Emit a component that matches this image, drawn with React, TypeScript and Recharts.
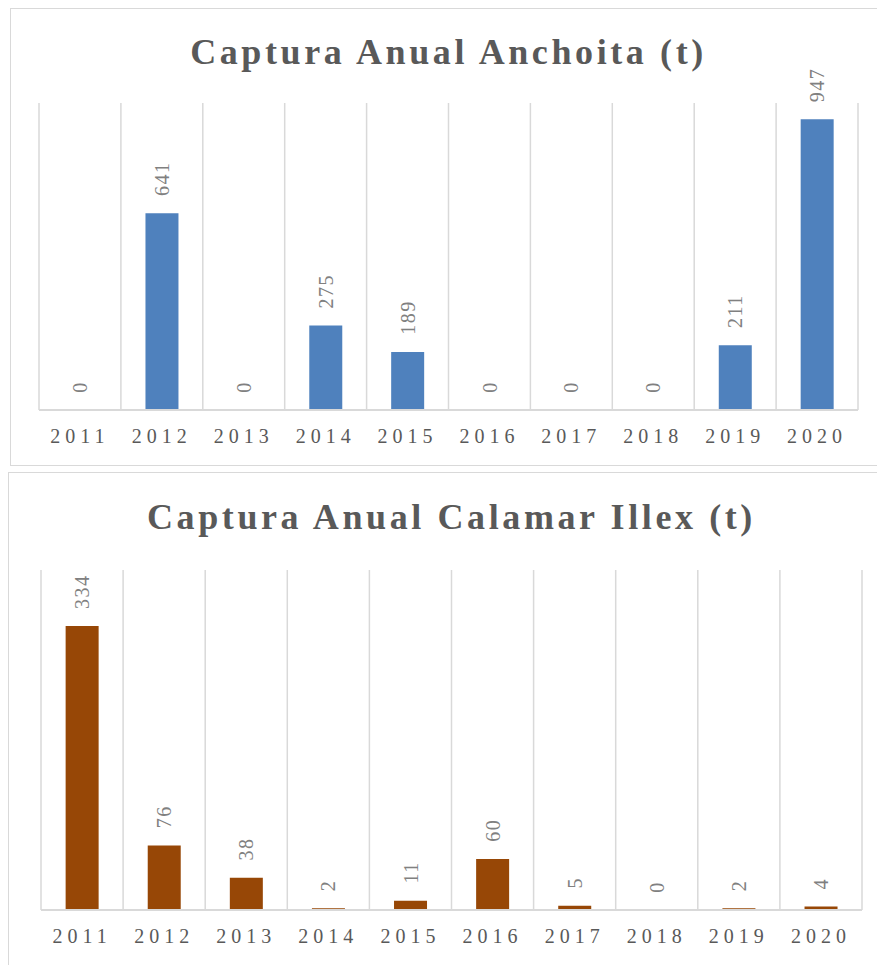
import React from 'react'
import {
  BarChart,
  Bar,
  XAxis,
  YAxis,
  CartesianGrid,
  LabelList,
} from 'recharts'

const years = ['2011', '2012', '2013', '2014', '2015', '2016', '2017', '2018', '2019', '2020']
const anchoitaCatch = [0, 641, 0, 275, 189, 0, 0, 0, 211, 947]
const illexCatch = [334, 76, 38, 2, 11, 60, 5, 0, 2, 4]

const StyleSheet = {
  create: (styles: Record<string, React.CSSProperties>) => styles,
}

const FONT = '"Liberation Serif", serif'

interface PanelProps {
  title: string
  values: number[]
  color: string
  yMax: number
  width: number
  height: number
  margin: { top: number; right: number; left: number; bottom: number }
  titleTop: number
}

// rotated value label sitting above each bar
const RotatedLabel = (props: any) => {
  const { x, y, width, value } = props
  const cx = Number(x) + Number(width) / 2
  const ty = Number(y) - 17
  return (
    <text
      x={cx}
      y={ty}
      transform={`rotate(-90 ${cx} ${ty})`}
      textAnchor="start"
      dominantBaseline="central"
      fill="#808080"
      fontSize={20}
      fontFamily={FONT}
      letterSpacing={1.5}
    >
      {value}
    </text>
  )
}

const ChartPanel: React.FC<PanelProps> = ({
  title,
  values,
  color,
  yMax,
  width,
  height,
  margin,
  titleTop,
}) => {
  // recharts skips labels on zero-height bars, so the labels ride on a
  // hair-thin invisible bar stacked on top of each value
  const data = years.map((year, i) => ({
    year,
    value: values[i],
    cap: yMax * 0.0005,
    label: String(values[i]),
  }))
  const n = years.length

  return (
    <div style={{ position: 'relative', width, height }}>
      <div
        style={{
          ...styles.title,
          top: titleTop,
          left: margin.left,
          right: margin.right,
        }}
      >
        {title}
      </div>
      <BarChart
        width={width}
        height={height}
        data={data}
        margin={margin}
        barCategoryGap="30%"
      >
        <CartesianGrid
          horizontal={false}
          stroke="#d9d9d9"
          strokeWidth={1.5}
          verticalCoordinatesGenerator={({ offset }: any) =>
            Array.from({ length: n + 1 }, (_, i) => offset.left + (i * offset.width) / n)
          }
        />
        <XAxis
          dataKey="year"
          height={40}
          axisLine={{ stroke: '#d9d9d9', strokeWidth: 2 }}
          tickLine={false}
          tickMargin={13}
          interval={0}
          tick={{
            fill: '#595959',
            fontSize: 20,
            fontFamily: FONT,
            letterSpacing: 5,
          }}
        />
        <YAxis hide domain={[0, yMax]} allowDataOverflow />
        <Bar dataKey="value" stackId="s" fill={color} isAnimationActive={false} />
        <Bar dataKey="cap" stackId="s" fill="none" isAnimationActive={false}>
          <LabelList dataKey="label" content={<RotatedLabel />} />
        </Bar>
      </BarChart>
    </div>
  )
}

export default function App() {
  return (
    <div>
      <div style={{ ...styles.box, left: 10, top: 8, width: 866, height: 456 }}>
        <ChartPanel
          title="Captura Anual Anchoita (t)"
          values={anchoitaCatch}
          color="#4f81bd"
          yMax={1000}
          width={866}
          height={456}
          margin={{ top: 94, right: 19, left: 28, bottom: 15 }}
          titleTop={20}
        />
      </div>
      <div style={{ ...styles.box, left: 8, top: 472, width: 880, height: 500 }}>
        <ChartPanel
          title="Captura Anual Calamar Illex (t)"
          values={illexCatch}
          color="#974706"
          yMax={400}
          width={880}
          height={492}
          margin={{ top: 97, right: 27, left: 32, bottom: 15 }}
          titleTop={21}
        />
      </div>
    </div>
  )
}

const styles = StyleSheet.create({
  box: {
    position: 'absolute',
    border: '1.5px solid #d9d9d9',
    background: '#ffffff',
    overflow: 'hidden',
  },

  title: {
    position: 'absolute',
    textAlign: 'center',
    fontFamily: FONT,
    fontWeight: 700,
    fontSize: 36,
    letterSpacing: 3.6,
    lineHeight: '46px',
    color: '#595959',
    whiteSpace: 'nowrap',
  },
})
